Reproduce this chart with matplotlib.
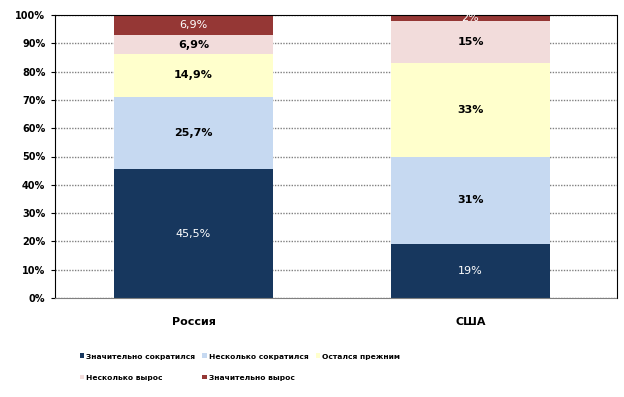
import numpy as np
import matplotlib
matplotlib.use('Agg')
import matplotlib.pyplot as plt
from matplotlib.patches import Patch

categories = ['Россия', 'США']
series_names = ['Значительно сократился', 'Несколько сократился', 'Остался прежним',
                'Несколько вырос', 'Значительно вырос']
russia = [45.5, 25.7, 14.9, 6.9, 6.9]
usa = [19, 31, 33, 15, 2]
russia_labels = ['45,5%', '25,7%', '14,9%', '6,9%', '6,9%']
usa_labels = ['19%', '31%', '33%', '15%', '2%']

colors = ['#17375E', '#C6D9F1', '#FFFFCC', '#F2DCDB', '#953735']
text_colors = ['white', 'black', 'black', 'black', 'white']
text_weights = ['normal', 'bold', 'bold', 'bold', 'normal']

fig = plt.figure(figsize=(6.24, 3.97), dpi=100)
ax = fig.add_axes([55 / 624, 1 - 298 / 397, 562 / 624, 283 / 397])

x = np.arange(len(categories))
width = 0.574
bottoms = np.zeros(2)
for i in range(len(series_names)):
    vals = np.array([russia[i], usa[i]])
    ax.bar(x, vals, width, bottom=bottoms, color=colors[i], zorder=2)
    for j, lab in enumerate([russia_labels[i], usa_labels[i]]):
        ax.text(x[j], bottoms[j] + vals[j] / 2, lab, ha='center', va='center',
                fontsize=8, fontweight=text_weights[i], color=text_colors[i], zorder=3)
    bottoms += vals

ax.set_xlim(-0.5, 1.529)
ax.set_ylim(0, 100)
ax.set_yticks(np.arange(0, 101, 10))
ax.set_yticklabels([f'{v}%' for v in range(0, 101, 10)], fontsize=7, fontweight='bold')
ax.set_xticks(x)
ax.set_xticklabels(categories, fontsize=8, fontweight='bold')
ax.tick_params(axis='x', length=0, pad=14)
ax.tick_params(axis='y', length=3, pad=4)
ax.yaxis.grid(True, color='#808080', linestyle=(0, (1, 1)), linewidth=1, zorder=0)
ax.spines['left'].set_color('black')
ax.spines['bottom'].set_linestyle((0, (1, 1)))
ax.spines['bottom'].set_color('#808080')
ax.spines['top'].set_linestyle((0, (1, 1)))
ax.spines['right'].set_linestyle((0, (1, 1)))

handles = [Patch(facecolor=c, label=n) for c, n in zip(colors, series_names)]
order = [0, 3, 1, 4, 2]
fig.legend([handles[k] for k in order], [series_names[k] for k in order],
           loc='center left', bbox_to_anchor=(73 / 624, 1 - 367 / 397), ncol=3,
           frameon=False, prop={'size': 5.4, 'weight': 'bold'},
           handlelength=0.6, handleheight=0.6, handletextpad=0.3,
           columnspacing=0.9, labelspacing=2.0)

fig.savefig('out.png', dpi=100)
